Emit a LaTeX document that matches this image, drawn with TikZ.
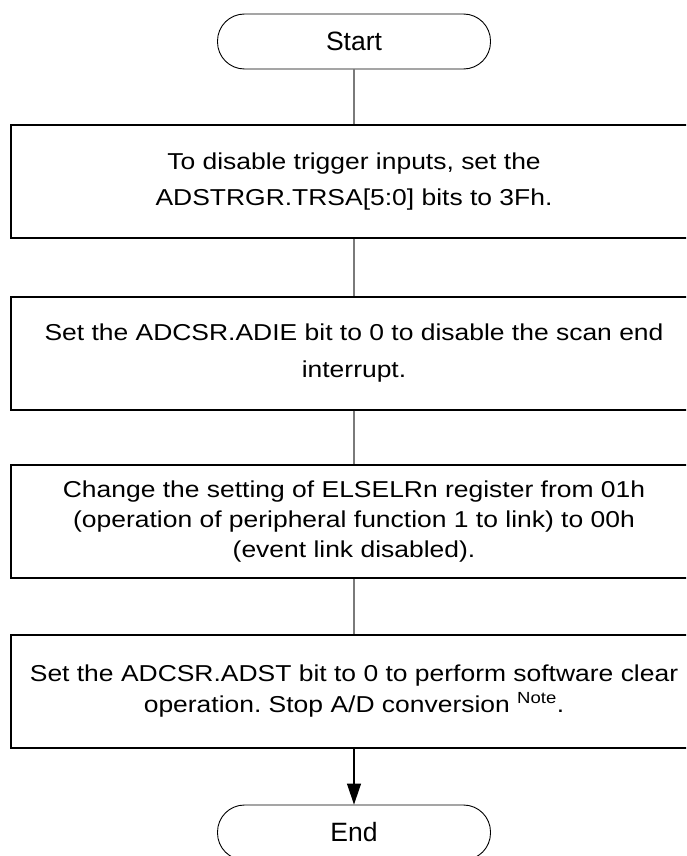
\documentclass[tikz,border=0pt]{standalone}
\usepackage{fontspec}
\setmainfont[FakeStretch=1.15]{Liberation Sans}
\newfontfamily\termfont{Liberation Sans}
\usetikzlibrary{arrows.meta,positioning}
\definecolor{FlowGrey}{HTML}{7A7A7A}
\frenchspacing

\begin{document}
\begin{tikzpicture}[
  x=1pt, y=-1pt,
  term/.style={draw, line width=0.9pt, rounded corners=27pt, minimum width=273pt,
               minimum height=55pt, inner sep=0pt,
               font=\termfont\fontsize{26.5}{30}\selectfont},
  proc/.style={draw, line width=2pt, minimum width=686pt, minimum height=113pt,
               inner sep=0pt, align=center, font=\fontsize{23}{31}\selectfont},
  link/.style={draw=FlowGrey, line width=1.2pt},
  arr/.style={-{Triangle[length=21pt,width=14pt]}, line width=1.2pt, black}
]
\useasboundingbox (0,0) rectangle (686,856);
\clip (0,0) rectangle (686,856);

% Start / End
\node[term] (start) at (354,41.5) {Start};
\node[term] (stop) at (354,832.5) {End};

% Steps
\node[proc] (disable) at (354,181.5)
  {To disable trigger inputs, set the\\[5pt]ADSTRGR.TRSA[5:0] bits to 3Fh.};
\node[proc] (adie) at (354,353)
  {Set the ADCSR.ADIE bit to 0 to disable the scan end\\[6.5pt]interrupt.};
\node[proc] (elsel) at (354,521.5)
  {Change the setting of ELSELRn register from 01h\\[-1pt](operation of peripheral function 1 to link) to 00h\\[-1pt](event link disabled).};
\node[proc] (adst) at (354,691)
  {Set the ADCSR.ADST bit to 0 to perform software clear\\operation. Stop A/D conversion \textsuperscript{Note}.};

% Connectors
\draw[link] (start) -- (disable);
\draw[link] (disable) -- (adie);
\draw[link] (adie) -- (elsel);
\draw[link] (elsel) -- (adst);
\draw[arr] (adst) -- (stop);

\end{tikzpicture}
\end{document}
